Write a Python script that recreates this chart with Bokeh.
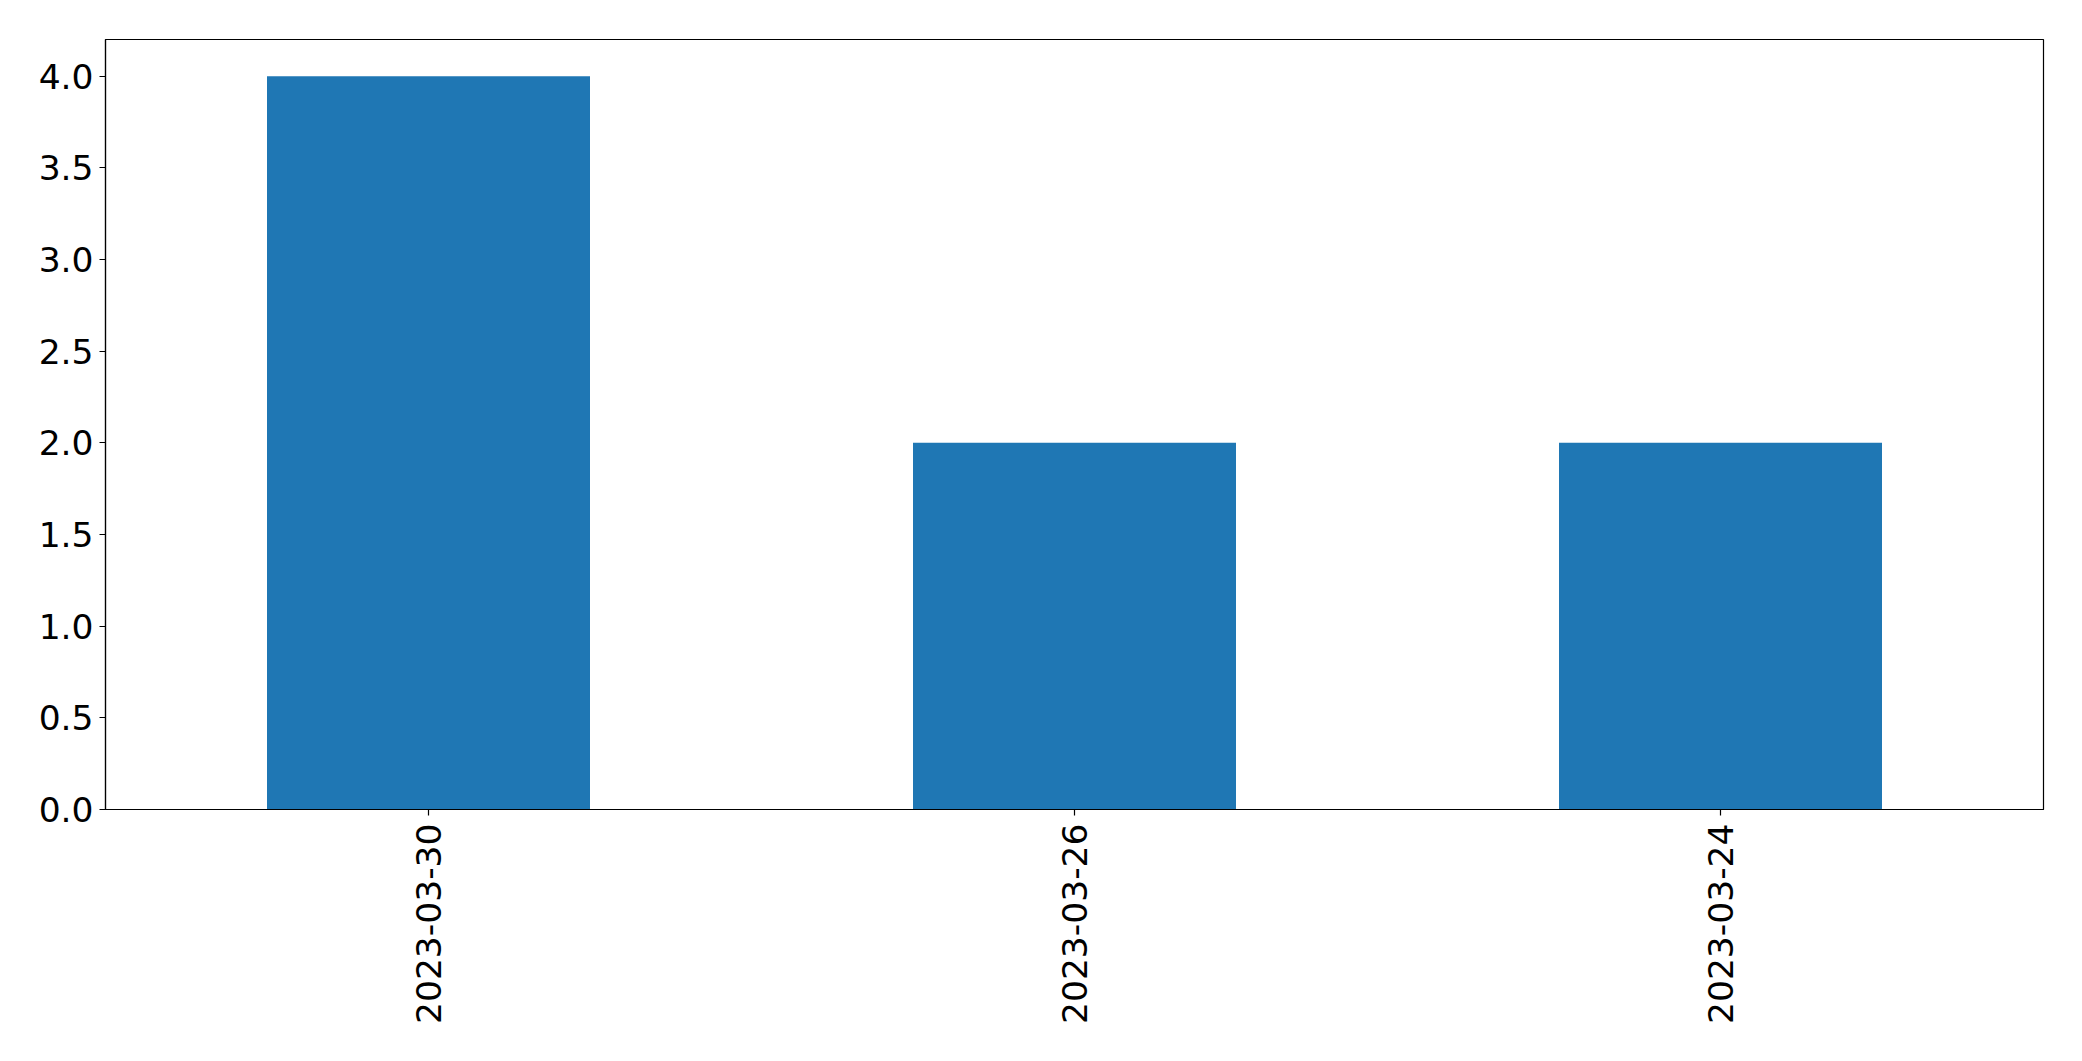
from bokeh.plotting import figure
from bokeh.models import FactorRange, Range1d, FixedTicker, PrintfTickFormatter, ColumnDataSource
from bokeh.embed import file_html
from bokeh.resources import INLINE
import math

dates = ["2023-03-30", "2023-03-26", "2023-03-24"]
counts = [4, 2, 2]
y_ticks = [0.0, 0.5, 1.0, 1.5, 2.0, 2.5, 3.0, 3.5, 4.0]

src = ColumnDataSource(dict(x=dates, top=counts))

p = figure(
    x_range=FactorRange(*dates, range_padding=0),
    y_range=Range1d(0, 4.2),
    width=2066, height=1045,
    output_backend="svg", toolbar_location=None,
    min_border_left=105, min_border_top=39, min_border_right=23, min_border_bottom=236,
)
p.vbar(x="x", top="top", width=0.5, source=src, color="#1f77b4", line_color=None)

p.xgrid.visible = False
p.ygrid.visible = False
p.outline_line_color = "black"
p.outline_line_width = 1.2
p.background_fill_color = "white"
p.border_fill_color = "white"

p.yaxis.ticker = FixedTicker(ticks=y_ticks)
p.yaxis.formatter = PrintfTickFormatter(format="%.1f")

for ax in (p.xaxis[0], p.yaxis[0]):
    ax.major_label_text_font = "DejaVu Sans"
    ax.major_label_text_font_size = "34.5px"
    ax.major_label_text_color = "black"
    ax.axis_line_color = "black"
    ax.axis_line_width = 1.2
    ax.major_tick_line_color = "black"
    ax.major_tick_line_width = 1.2
    ax.major_tick_out = 6
    ax.major_tick_in = 0
    ax.minor_tick_line_color = None
    ax.major_label_standoff = 6

p.xaxis.major_label_orientation = math.pi / 2
p.xaxis.major_label_standoff = 8

open("out.html", "w").write(file_html(p, INLINE))
